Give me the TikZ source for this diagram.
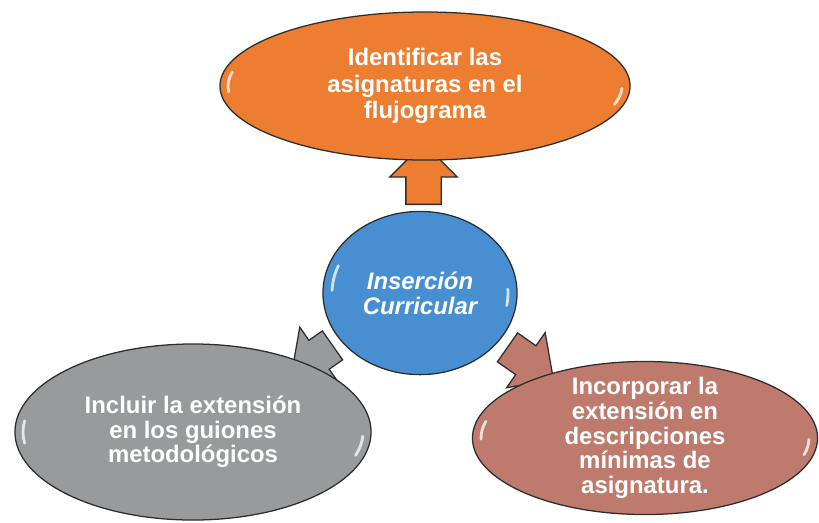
\documentclass[tikz,border=0pt]{standalone}
\usepackage{fontspec}
\setmainfont{Liberation Sans}
\usetikzlibrary{shapes.geometric,shapes.arrows}

\definecolor{orangeA}{RGB}{237,125,49}
\definecolor{blueA}{RGB}{72,143,210}
\definecolor{grayA}{RGB}{152,154,156}
\definecolor{brownA}{RGB}{190,123,109}
\definecolor{rim}{RGB}{45,45,45}

\begin{document}
\begin{tikzpicture}[
x=0.025cm,y=-0.025cm,
bubble/.style={
  draw=rim,
  ellipse,
  line width=0.9pt,
  inner sep=0pt
},
txt/.style={
  text=white,
  align=center,
  font=\bfseries\fontsize{17}{17.5}\selectfont
},
blockarrow/.style={
  draw=rim,
  line width=0.9pt,
  single arrow,
  single arrow head extend=0.4cm,
  single arrow tip angle=90,
  inner xsep=0pt,
  inner ysep=0.425cm,
  text height=0pt,
  text depth=0pt,
  anchor=tail
},
gloss/.style={
  white,
  line width=2pt,
  line cap=round,
  opacity=0.75
}
]
\useasboundingbox (0,0) rectangle (819,522);

% arrows first, the bubbles then cover their heads
\node[blockarrow,fill=orangeA,rotate=90,minimum height=1.525cm]
  (up) at (423.5,205) {};
\node[blockarrow,fill=grayA,rotate=215,minimum height=1.25cm]
  (downleft) at (333,345) {};
\node[blockarrow,fill=brownA,rotate=-35,minimum height=1.4cm]
  (downright) at (507,347) {};

\node[bubble,fill=orangeA,minimum width=10.25cm,minimum height=3.7cm,
  label={[txt,font=\bfseries\fontsize{17}{19}\selectfont]center:{Identificar las\\asignaturas en el\\flujograma}}]
  (ident) at (425,86) {};
\node[bubble,fill=blueA,minimum width=4.85cm,minimum height=4.08cm,
  label={[txt,font=\bfseries\itshape\fontsize{17}{18}\selectfont]center:{Inserción\\Curricular}}]
  (insert) at (420,293) {};
\node[bubble,fill=grayA,minimum width=8.9cm,minimum height=4.4cm,
  label={[txt]center:{Incluir la extensión\\en los guiones\\metodológicos}}]
  (incl) at (193,432) {};
\node[bubble,fill=brownA,minimum width=8.625cm,minimum height=3.825cm,
  label={[txt]center:{Incorporar la\\extensión en\\descripciones\\mínimas de\\asignatura.}}]
  (incorp) at (645,438) {};

% glossy streaks
\draw[gloss] (ident.center) ++(-168:197 and 67) arc[start angle=-168,end angle=-185,x radius=197,y radius=67];
\draw[gloss] (ident.center) ++(16:197 and 67) arc[start angle=16,end angle=2,x radius=197,y radius=67];
\draw[gloss] (insert.center) ++(-158:88 and 73) arc[start angle=-158,end angle=-178,x radius=88,y radius=73];
\draw[gloss] (insert.center) ++(10:88 and 73) arc[start angle=10,end angle=-3,x radius=88,y radius=73];
\draw[gloss] (incl.center) ++(-172:170 and 80) arc[start angle=-172,end angle=-188,x radius=170,y radius=80];
\draw[gloss] (incl.center) ++(17:170 and 80) arc[start angle=17,end angle=3,x radius=170,y radius=80];
\draw[gloss] (incorp.center) ++(-166:164 and 69) arc[start angle=-166,end angle=-181,x radius=164,y radius=69];
\draw[gloss] (incorp.center) ++(14:164 and 69) arc[start angle=14,end angle=1,x radius=164,y radius=69];
\end{tikzpicture}
\end{document}
